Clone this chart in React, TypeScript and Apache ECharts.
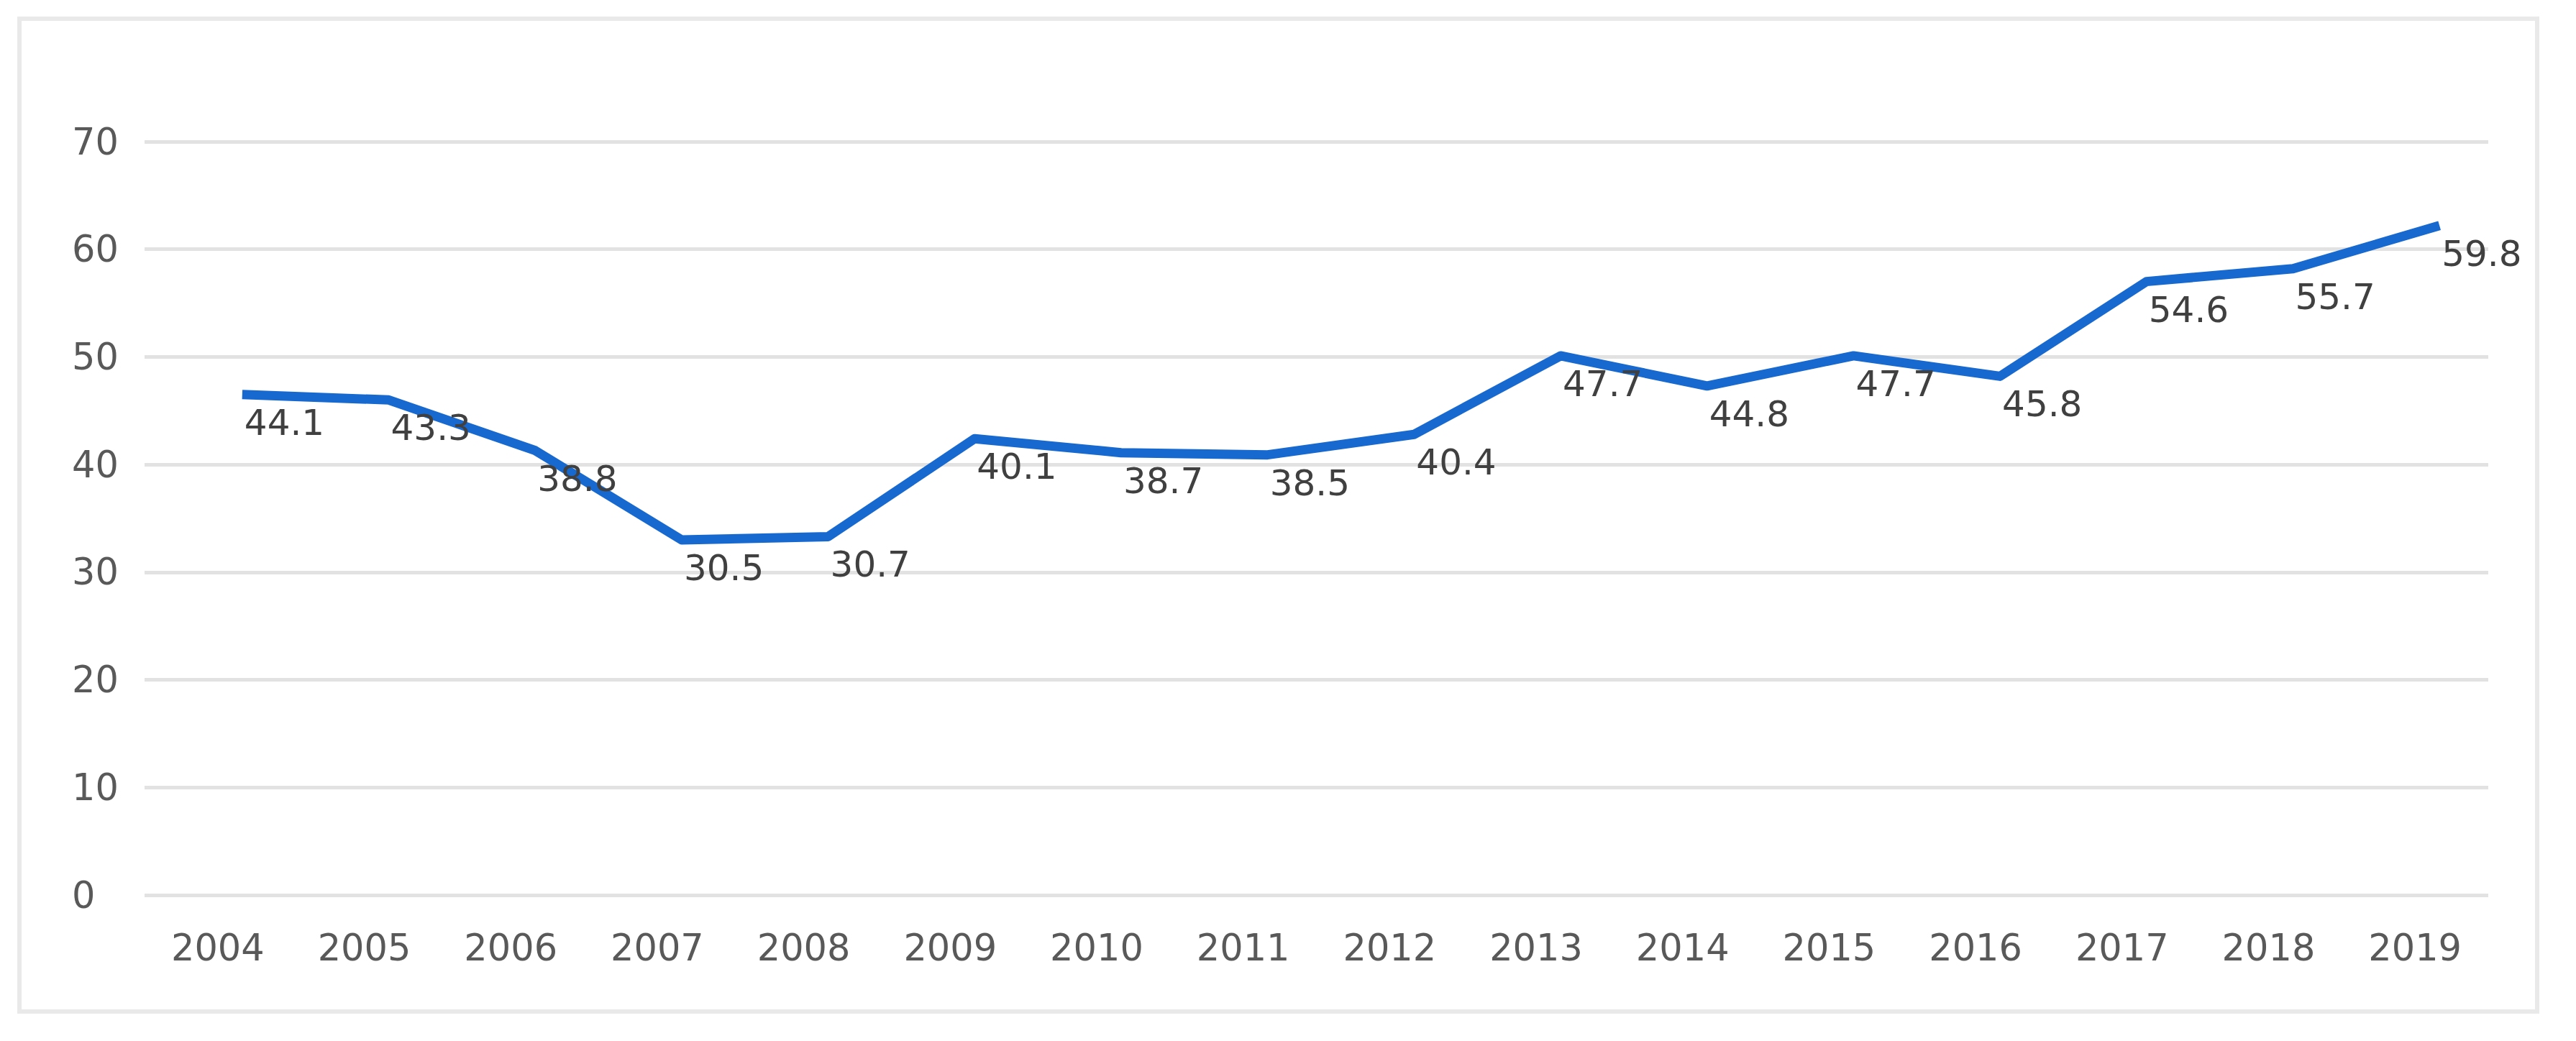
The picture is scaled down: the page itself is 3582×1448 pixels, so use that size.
import React, { useEffect, useRef } from "react";
import * as echarts from "echarts";

const years = ["2004", "2005", "2006", "2007", "2008", "2009", "2010", "2011", "2012", "2013", "2014", "2015", "2016", "2017", "2018", "2019"];
// line vertices as drawn in the picture (read against the y axis)
const plottedValues = [46.5, 46.0, 41.3, 33.0, 33.3, 42.4, 41.1, 40.9, 42.8, 50.1, 47.3, 50.1, 48.2, 57.0, 58.2, 62.2];
// printed data labels
const labelValues = [44.1, 43.3, 38.8, 30.5, 30.7, 40.1, 38.7, 38.5, 40.4, 47.7, 44.8, 47.7, 45.8, 54.6, 55.7, 59.8];
const yMin = 0;
const yMax = 70;
const yStep = 10;

const FONT = "DejaVu Sans";

export default function App() {
  const ref = useRef<HTMLDivElement>(null);
  useEffect(() => {
    const chart = echarts.init(ref.current!, null, { renderer: "svg" });
    const gridBase = { top: 197, width: 3259, height: 1048 };
    chart.setOption({
      animation: false,
      backgroundColor: "#ffffff",
      graphic: [
        {
          type: "rect",
          shape: { x: 27, y: 26, width: 3501, height: 1381 },
          style: { fill: "none", stroke: "#e9e9e9", lineWidth: 6 },
          silent: true,
        },
      ],
      grid: [
        { left: 201, ...gridBase },
        { left: 235, ...gridBase },
      ],
      xAxis: [
        {
          type: "category",
          gridIndex: 0,
          data: years,
          boundaryGap: true,
          axisLine: { show: false },
          axisTick: { show: false },
          axisLabel: { fontSize: 51, color: "#595959", fontFamily: FONT, margin: 48 },
        },
        {
          type: "category",
          gridIndex: 1,
          data: years,
          boundaryGap: true,
          show: false,
        },
      ],
      yAxis: [
        {
          type: "value",
          gridIndex: 0,
          min: yMin,
          max: yMax,
          interval: yStep,
          axisLine: { show: false },
          axisTick: { show: false },
          axisLabel: { fontSize: 51, color: "#595959", fontFamily: FONT, align: "left", margin: 101, padding: [6, 0, 0, 0] },
          splitLine: { lineStyle: { color: "#e2e2e2", width: 5 } },
        },
        {
          type: "value",
          gridIndex: 1,
          min: yMin,
          max: yMax,
          interval: yStep,
          show: false,
          splitLine: { show: false },
        },
      ],
      series: [
        {
          type: "line",
          xAxisIndex: 1,
          yAxisIndex: 1,
          data: plottedValues,
          symbol: "circle",
          symbolSize: 2,
          showSymbol: true,
          itemStyle: { color: "rgba(0,0,0,0)" },
          lineStyle: { color: "#1769cf", width: 13, join: "round" },
          z: 3,
          label: {
            show: true,
            formatter: (p: any) => labelValues[p.dataIndex].toFixed(1),
            position: [4, 40],
            align: "left",
            verticalAlign: "middle",
            fontSize: 50,
            fontFamily: FONT,
            color: "#404040",
          },
        },
      ],
    });
    return () => chart.dispose();
  }, []);
  return (
    <div
      ref={ref}
      style={{ position: "absolute", left: 0, top: 0, width: 3582, height: 1448, background: "#fff" }}
    />
  );
}
